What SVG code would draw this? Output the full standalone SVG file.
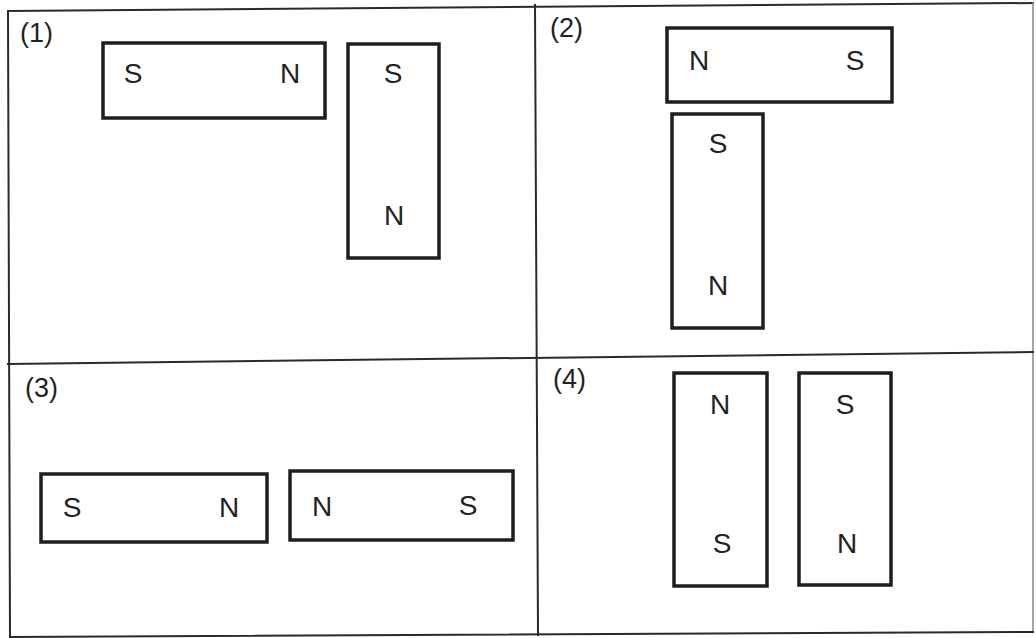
<svg xmlns="http://www.w3.org/2000/svg" width="1036" height="638" viewBox="0 0 1036 638">
<style>
.grid{stroke:#2a2a2a;stroke-width:2;fill:none;stroke-linecap:square}
.mag{fill:#fff;stroke:#1e1e1e;stroke-width:3.5}
.pole{font-family:"Liberation Sans",Arial,sans-serif;font-size:28px;fill:#222;text-anchor:middle}
.lbl{font-family:"Liberation Sans",Arial,sans-serif;font-size:27px;fill:#222}
</style>
<rect width="1036" height="638" fill="#fff"/>
<g id="grid">
<line class="grid" x1="8" y1="11" x2="1033" y2="3"/>
<line class="grid" x1="8" y1="11" x2="10" y2="637"/>
<line class="grid" x1="1033" y1="3" x2="1033" y2="632" style="stroke:#888;stroke-width:1.5"/>
<line class="grid" x1="10" y1="637" x2="1033" y2="632"/>
<line class="grid" x1="8" y1="364" x2="1033" y2="352"/>
<line class="grid" x1="535" y1="5" x2="538" y2="635"/>
</g>
<g id="panel1">
<text class="lbl" x="20" y="42">(1)</text>
<g id="m1a"><rect class="mag" x="103" y="43" width="222" height="75"/>
<text class="pole" x="133" y="83">S</text><text class="pole" x="290" y="83">N</text></g>
<g id="m1b"><rect class="mag" x="348" y="44" width="91" height="214"/>
<text class="pole" x="393" y="83">S</text><text class="pole" x="394" y="225">N</text></g>
</g>
<g id="panel2">
<text class="lbl" x="550" y="37">(2)</text>
<g id="m2a"><rect class="mag" x="667" y="28" width="225" height="74"/>
<text class="pole" x="699" y="70">N</text><text class="pole" x="855" y="70">S</text></g>
<g id="m2b"><rect class="mag" x="672" y="114" width="91" height="214"/>
<text class="pole" x="718" y="153">S</text><text class="pole" x="718" y="295">N</text></g>
</g>
<g id="panel3">
<text class="lbl" x="25" y="397">(3)</text>
<g id="m3a"><rect class="mag" x="41" y="474" width="226" height="68"/>
<text class="pole" x="72" y="517">S</text><text class="pole" x="229" y="517">N</text></g>
<g id="m3b"><rect class="mag" x="290" y="471" width="223" height="69"/>
<text class="pole" x="322" y="516">N</text><text class="pole" x="468" y="515">S</text></g>
</g>
<g id="panel4">
<text class="lbl" x="553" y="388">(4)</text>
<g id="m4a"><rect class="mag" x="674" y="373" width="93" height="213"/>
<text class="pole" x="720" y="414">N</text><text class="pole" x="722" y="553">S</text></g>
<g id="m4b"><rect class="mag" x="799" y="373" width="92" height="212"/>
<text class="pole" x="845" y="414">S</text><text class="pole" x="847" y="553">N</text></g>
</g>
</svg>
